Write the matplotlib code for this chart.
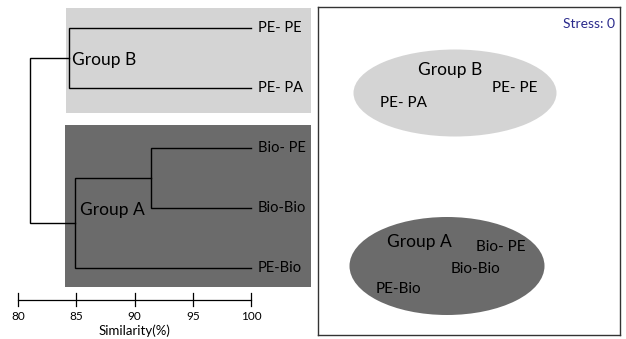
"""Cluster dendrogram (left) and NMDS ordination (right) of the five treatments."""
import matplotlib
matplotlib.use("Agg")

import matplotlib.pyplot as plt
from matplotlib.patches import Ellipse, Rectangle

plt.rcParams["font.family"] = ["Lato", "DejaVu Sans"]

LIGHT = "#d4d4d4"
DARK = "#6b6b6b"

# --- dendrogram data -------------------------------------------------------
leaves = ["PE- PE", "PE- PA", "Bio- PE", "Bio-Bio", "PE-Bio"]
# merges: (left child, right child, similarity %); children < 5 are leaves,
# 5+ refer to earlier merges in this list
merges = [
    (0, 1, 84.4),   # node 5: group B
    (2, 3, 91.4),   # node 6
    (6, 4, 84.9),   # node 7: group A
    (5, 7, 81.0),   # root
]
sim_ticks = [80, 85, 90, 95, 100]

# --- NMDS data (ordination units) -------------------------------------------
nmds_labels = ["PE- PE", "PE- PA", "Bio- PE", "Bio-Bio", "PE-Bio"]
nmds_x = [515, 403, 501, 476, 398]
nmds_y = [88, 103, 247, 269, 289]
group_names = ["Group B", "Group A"]
group_cx = [455, 447]
group_cy = [93, 266]
group_w = [203, 195]
group_h = [87, 98]
group_label_x = [450, 419]
group_label_y = [70, 242]
stress = 0

fig = plt.figure(figsize=(6.26, 3.39), dpi=100)
W, H = 626, 339


def px_axes(x0, y0, x1, y1):
    return fig.add_axes([x0 / W, 1 - y1 / H, (x1 - x0) / W, (y1 - y0) / H])


# left panel: x in similarity, y in leaf index (top to bottom)
ax = px_axes(0, 0, 318, 339)
ppu = (251 - 18) / 20.0      # pixels per similarity unit
row = 60.0                    # pixels per leaf row
ax.set_xlim(80 - 18 / ppu, 80 + (318 - 18) / ppu)
ax.set_ylim((339 - 28) / row, -28 / row)
ax.axis("off")

ax.add_patch(Rectangle((84.12, -0.333), 21.0, 1.75, color=LIGHT, lw=0))
ax.add_patch(Rectangle((84.03, 1.617), 21.1, 2.70, color=DARK, lw=0))

pos = {i: (100.0, float(i)) for i in range(len(leaves))}
for k, (a, b, s) in enumerate(merges):
    (xa, ya), (xb, yb) = pos[a], pos[b]
    ax.plot([xa, s, s, xb], [ya, ya, yb, yb], color="black", lw=1.0,
            solid_joinstyle="miter")
    pos[len(leaves) + k] = (s, (ya + yb) / 2)

for i, name in enumerate(leaves):
    ax.text(100.6, i, name, fontsize=10.5, va="center", ha="left")

ax.text(84.64, 0.53, "Group B", fontsize=12.5, va="center", ha="left")
ax.text(85.3, 3.03, "Group A", fontsize=12.5, va="center", ha="left")

# similarity axis drawn by hand, it sits below the grey blocks
y_ax = (300 - 28) / row
ax.plot([sim_ticks[0], sim_ticks[-1]], [y_ax, y_ax], color="black", lw=0.9)
for t in sim_ticks:
    ax.plot([t, t], [y_ax - 0.12, y_ax + 0.1], color="black", lw=0.9)
    ax.text(t, y_ax + 0.27, str(t), fontsize=8.5, ha="center", va="center")
ax.text(90, y_ax + 0.52, "Similarity(%)", fontsize=9.5, ha="center",
        va="center")

# right panel: NMDS
ax2 = px_axes(318, 7, 620, 335)
ax2.set_xlim(318, 620)
ax2.set_ylim(335, 7)
ax2.set_xticks([])
ax2.set_yticks([])
for sp in ax2.spines.values():
    sp.set_edgecolor("#333333")
    sp.set_linewidth(1.0)

for i, g in enumerate(group_names):
    ax2.add_patch(Ellipse((group_cx[i], group_cy[i]), group_w[i], group_h[i],
                          color=LIGHT if i == 0 else DARK, lw=0))
    ax2.text(group_label_x[i], group_label_y[i], g, fontsize=12.5,
             ha="center", va="center")
for x, y, name in zip(nmds_x, nmds_y, nmds_labels):
    ax2.text(x, y, name, fontsize=11, ha="center", va="center")

ax2.text(0.985, 0.965, f"Stress: {stress}", transform=ax2.transAxes,
         fontsize=10, color="#2b2b8c", ha="right", va="top")

fig.savefig("out.png", dpi=100, facecolor="white")
